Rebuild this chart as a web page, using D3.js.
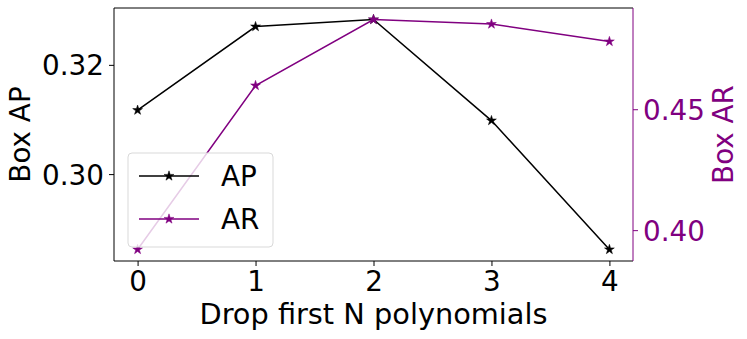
<!DOCTYPE html>
<html>
<head>
<meta charset="utf-8">
<script src="https://cdn.jsdelivr.net/npm/d3@7"></script>
<style>
  body { margin: 0; background: #fff; }
  text { font-family: "DejaVu Sans", sans-serif; }
</style>
</head>
<body>
<svg id="chart" width="747" height="339"></svg>
<script>
// data
const dropN = [0, 1, 2, 3, 4]
const boxAP = [0.3117, 0.3270, 0.3283, 0.3098, 0.2862]
const boxAR = [0.3920, 0.4598, 0.4871, 0.4852, 0.4780]
const apTicks = [0.30, 0.32]
const arTicks = [0.40, 0.45]

const PURPLE = '#800080'
const FONT = 27.8

const svg = d3.select('#chart')
const margin = { left: 114, right: 747 - 633, top: 8, bottom: 339 - 261 }
const W = 747 - margin.left - margin.right
const H = 339 - margin.top - margin.bottom

// NOTE: matplotlib-like 5% padding on data ranges
const pad = (vals, f = 0.05) => {
  const [lo, hi] = d3.extent(vals)
  const d = (hi - lo) * f
  return [lo - d, hi + d]
}

const x = d3.scaleLinear().domain(pad(dropN)).range([0, W])
const yL = d3.scaleLinear().domain(pad(boxAP)).range([H, 0])
const yR = d3.scaleLinear().domain(pad(boxAR)).range([H, 0])

const g = svg.append('g').attr('transform', `translate(${margin.left},${margin.top})`)

// NOTE: axes
const styleAxis = (sel, color) => {
  sel.select('.domain').remove()
  sel.selectAll('.tick line').attr('stroke', color).attr('stroke-width', 1)
  sel.selectAll('.tick text')
    .attr('fill', color)
    .style('font-size', `${FONT}px`)
}

const xAxis = g.append('g')
  .attr('transform', `translate(0,${H})`)
  .call(d3.axisBottom(x).tickValues(dropN).tickFormat(d3.format('d')).tickSize(5).tickPadding(5))
styleAxis(xAxis, '#000')

const leftAxis = g.append('g')
  .call(d3.axisLeft(yL).tickValues(apTicks).tickFormat(d3.format('.2f')).tickSize(5).tickPadding(5))
styleAxis(leftAxis, '#000')
leftAxis.selectAll('.tick text').attr('dy', '0.36em')

const rightAxis = g.append('g')
  .attr('transform', `translate(${W},0)`)
  .call(d3.axisRight(yR).tickValues(arTicks).tickFormat(d3.format('.2f')).tickSize(5).tickPadding(5))
styleAxis(rightAxis, PURPLE)
rightAxis.selectAll('.tick text').attr('dy', '0.36em')

// NOTE: spines
g.append('line').attr('x1', 0).attr('x2', 0).attr('y1', 0).attr('y2', H).attr('stroke', '#000')
g.append('line').attr('x1', 0).attr('x2', W).attr('y1', H).attr('y2', H).attr('stroke', '#000')
g.append('line').attr('x1', 0).attr('x2', W).attr('y1', 0).attr('y2', 0).attr('stroke', '#000')
g.append('line').attr('x1', W).attr('x2', W).attr('y1', 0).attr('y2', H).attr('stroke', PURPLE)

// NOTE: axis labels
svg.append('text')
  .attr('x', margin.left + W / 2).attr('y', 323.5)
  .attr('text-anchor', 'middle')
  .style('font-size', '28.8px')
  .text('Drop first N polynomials')

svg.append('text')
  .attr('transform', `translate(30,${margin.top + H / 2}) rotate(-90)`)
  .attr('text-anchor', 'middle')
  .style('font-size', `${FONT}px`)
  .text('Box AP')

svg.append('text')
  .attr('transform', `translate(733,${margin.top + H / 2}) rotate(-90)`)
  .attr('text-anchor', 'middle')
  .attr('fill', PURPLE)
  .style('font-size', `${FONT}px`)
  .text('Box AR')

const star = d3.symbol().type(d3.symbolStar).size(30)

const drawSeries = (vals, y, color) => {
  const line = d3.line().x((d, i) => x(dropN[i])).y(d => y(d))
  g.append('path')
    .datum(vals)
    .attr('d', line)
    .attr('fill', 'none')
    .attr('stroke', color)
    .attr('stroke-width', 1.5)
  g.selectAll(null)
    .data(vals)
    .enter()
    .append('path')
    .attr('d', star)
    .attr('transform', (d, i) => `translate(${x(dropN[i])},${y(d)})`)
    .attr('fill', color)
    .attr('stroke', color)
    .attr('stroke-width', 0.5)
}

drawSeries(boxAP, yL, '#000')

// NOTE: legend belongs to the left axes, so the twin-axis line is drawn above it
const legend = svg.append('g').attr('transform', 'translate(128,153)')
legend.append('rect')
  .attr('width', 145).attr('height', 94)
  .attr('rx', 4)
  .attr('fill', 'rgba(255,255,255,0.8)')
  .attr('stroke', '#d9d9d9')
const legendItems = [
  { label: 'AP', color: '#000', y: 23 },
  { label: 'AR', color: PURPLE, y: 66 },
]
legendItems.forEach(item => {
  legend.append('line')
    .attr('x1', 11).attr('x2', 71).attr('y1', item.y).attr('y2', item.y)
    .attr('stroke', item.color).attr('stroke-width', 1.5)
  legend.append('path')
    .attr('d', star)
    .attr('transform', `translate(41,${item.y})`)
    .attr('fill', item.color)
    .attr('stroke', item.color)
    .attr('stroke-width', 0.5)
  legend.append('text')
    .attr('x', 93).attr('y', item.y)
    .attr('dy', '0.36em')
    .style('font-size', `${FONT}px`)
    .text(item.label)
})

drawSeries(boxAR, yR, PURPLE)
</script>
</body>
</html>
